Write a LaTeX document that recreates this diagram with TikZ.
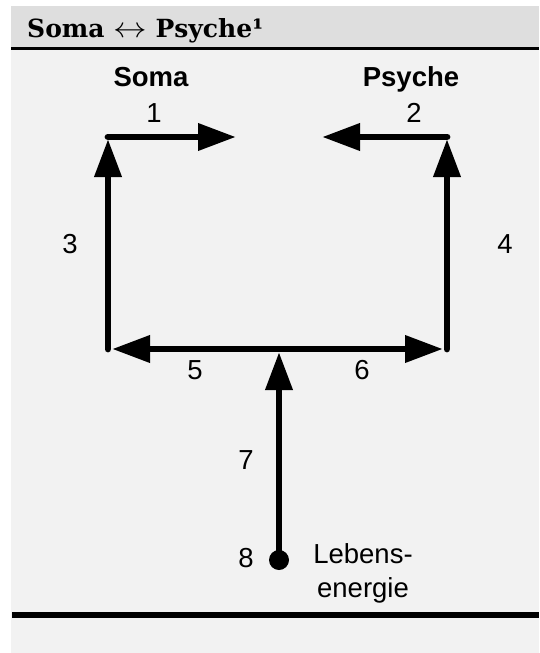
\documentclass[tikz,border=0pt]{standalone}
\usepackage{graphicx}
\usepackage{fontspec}
\setmainfont{Liberation Sans}
\newfontfamily\titlefont{DejaVu Serif}
\usetikzlibrary{arrows.meta}
\definecolor{hdr}{HTML}{DEDEDE}
\definecolor{bodybg}{HTML}{F2F2F2}
\begin{document}
\begin{tikzpicture}[x=1pt,y=-1pt,
  flow/.style={line width=6.8pt, line cap=round, line join=round, -{Triangle[length=38pt,width=26pt]}},
  lbl/.style={font=\fontsize{27.5}{33}\selectfont, inner sep=0pt},
  hd/.style={font=\fontsize{27.5}{33}\selectfont\bfseries, inner sep=0pt},
  dot/.style={circle, fill=black, minimum size=20pt, inner sep=0pt}]
\useasboundingbox (0,0) rectangle (539,653);
\fill[white] (0,0) rectangle (539,653);
\fill[hdr] (11,6) rectangle (539,47);
\fill[bodybg] (11,50) rectangle (539,653);
\fill[black] (11,47) rectangle (539,50);
\fill[black] (12,612) rectangle (539,618);

\node[anchor=base west, inner sep=0pt, font=\titlefont\bfseries\fontsize{25}{30}\selectfont] (title) at (27,37) {Soma \scalebox{1.35}[1.15]{$\leftrightarrow$} Psyche¹};

% coordinates
\coordinate (TL) at (108,137);
\coordinate (TR) at (447,137);
\coordinate (BL) at (108,349);
\coordinate (BR) at (447,349);
\coordinate (M) at (279,349);
\coordinate (T1) at (236,137);
\coordinate (T2) at (322,137);
\coordinate (E3) at (108,139);
\coordinate (E4) at (447,139);
\coordinate (E5) at (112,349);
\coordinate (E6) at (443,349);
\coordinate (E7) at (279,352);
\node[dot] (D) at (279,560) {};

% connectors
\draw[flow] (BL) -- (E3);
\draw[flow] (BR) -- (E4);
\draw[flow] (TL) -- (T1);
\draw[flow] (TR) -- (T2);
\draw[flow] (M) -- (E5);
\draw[flow] (M) -- (E6);
\draw[flow] (D.center) -- (E7);

% labels
\node[hd, anchor=base] (soma) at (151,86) {Soma};
\node[hd, anchor=base] (psyche) at (411,86) {Psyche};
\node[lbl, anchor=base] (l1) at (154,122) {1};
\node[lbl, anchor=base] (l2) at (414,122) {2};
\node[lbl] (l3) at (70,244) {3};
\node[lbl] (l4) at (505,244) {4};
\node[lbl] (l5) at (195,370) {5};
\node[lbl] (l6) at (362,370) {6};
\node[lbl] (l7) at (246,460) {7};
\node[lbl] (l8) at (246,558) {8};
\node[lbl, anchor=base] (leb1) at (363,563) {Lebens-};
\node[lbl, anchor=base] (leb2) at (363,597) {energie};
\end{tikzpicture}
\end{document}
